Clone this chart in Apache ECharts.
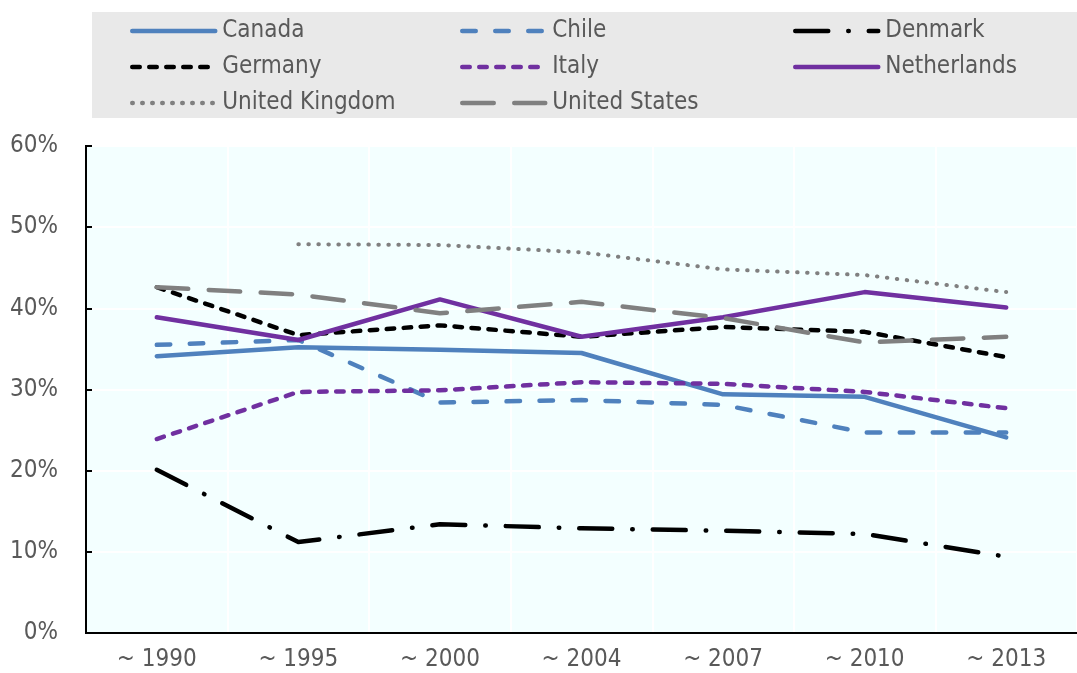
<!DOCTYPE html>
<html>
<head>
<meta charset="utf-8">
<script src="https://cdn.jsdelivr.net/npm/echarts@6/dist/echarts.min.js"></script>
<style>
  html, body { margin: 0; padding: 0; background: #fff; }
  #chart { width: 1077px; height: 673px; }
</style>
</head>
<body>
<div id="chart"></div>
<script>
// categories and values (percent)
var periods = ['~ 1990', '~ 1995', '~ 2000', '~ 2004', '~ 2007', '~ 2010', '~ 2013'];
var yTicks = [0, 10, 20, 30, 40, 50, 60];

var canada      = [34.1, 35.2, 34.9, 34.5, 29.4, 29.1, 24.1];
var chile       = [35.5, 36.1, 28.4, 28.7, 28.1, 24.7, 24.7];
var denmark     = [20.1, 11.2, 13.4, 12.9, 12.6, 12.2, 9.4];
var germany     = [42.6, 36.7, 37.9, 36.5, 37.7, 37.1, 34.0];
var italy       = [23.9, 29.7, 29.9, 30.9, 30.7, 29.7, 27.7];
var netherlands = [38.9, 36.1, 41.1, 36.5, 38.9, 42.0, 40.1];
var uk          = [null, 47.9, 47.8, 46.9, 44.8, 44.1, 42.0];
var us          = [42.6, 41.7, 39.4, 40.8, 38.8, 35.8, 36.5];

// legend columns, as in the reference
var legendCols = [
  ['Canada', 'Germany', 'United Kingdom'],
  ['Chile', 'Italy', 'United States'],
  ['Denmark', 'Netherlands']
];
var legendLeft = [130, 460, 793];

var font = "'Liberation Sans Narrow', 'Arial Narrow', 'DejaVu Sans Condensed', sans-serif";
var blue = '#4f81bd', purple = '#7030a0', grey = '#808080';

function line(name, data, color, type, width) {
  return {
    name: name,
    type: 'line',
    data: data,
    symbol: 'none',
    connectNulls: false,
    lineStyle: { color: color, width: width || 4.5, type: type, cap: 'round', join: 'round' },
    itemStyle: { color: color }
  };
}

var legends = legendCols.map(function (names, i) {
  return {
    orient: 'vertical',
    left: legendLeft[i],
    top: 19,
    itemWidth: 83,
    itemHeight: 24,
    itemGap: 12,
    padding: 0,
    itemStyle: { opacity: 0 },
    lineStyle: { width: 4.5 },
    textStyle: {
      fontFamily: font,
      fontSize: 24,
      color: '#595959',
      padding: [0, 0, 0, 2]
    },
    data: names
  };
});

var chart = echarts.init(document.getElementById('chart'));

var option = {
  animation: false,
  graphic: [{
    type: 'rect',
    shape: { x: 92, y: 12, width: 985, height: 106 },
    style: { fill: '#e9e9e9' },
    z: -1
  }],
  legend: legends,
  grid: {
    left: 86,
    top: 146,
    width: 997,
    height: 487,
    show: true,
    backgroundColor: '#f3ffff',
    borderColor: '#000',
    borderWidth: 2
  },
  xAxis: {
    type: 'category',
    data: periods,
    boundaryGap: true,
    axisLine: { lineStyle: { color: '#000', width: 2 } },
    axisTick: { inside: true, length: 10, lineStyle: { color: '#000', width: 2 } },
    splitLine: { show: true, lineStyle: { color: '#fff', width: 2 } },
    axisLabel: { fontFamily: font, fontSize: 24, color: '#595959', margin: 15 }
  },
  yAxis: {
    type: 'value',
    min: yTicks[0],
    max: yTicks[yTicks.length - 1],
    interval: 10,
    axisLine: { show: true, lineStyle: { color: '#000', width: 2 } },
    axisTick: { show: true, inside: true, length: 6, lineStyle: { color: '#000', width: 2 } },
    splitLine: { show: true, lineStyle: { color: '#fff', width: 2 } },
    axisLabel: { fontFamily: font, fontSize: 24, color: '#595959', margin: 28, formatter: '{value}%' }
  },
  series: [
    line('Canada', canada, blue, 'solid'),
    line('Chile', chile, blue, [13.5, 19.5]),
    line('Denmark', denmark, '#000', [33, 20, 0.5, 20]),
    line('Germany', germany, '#000', [7.5, 9.5]),
    line('Italy', italy, purple, [7.5, 9.5]),
    line('Netherlands', netherlands, purple, 'solid'),
    line('United Kingdom', uk, grey, [0.5, 9.5], 4),
    line('United States', us, grey, [31.5, 20.5])
  ]
};

chart.setOption(option);
</script>
</body>
</html>
